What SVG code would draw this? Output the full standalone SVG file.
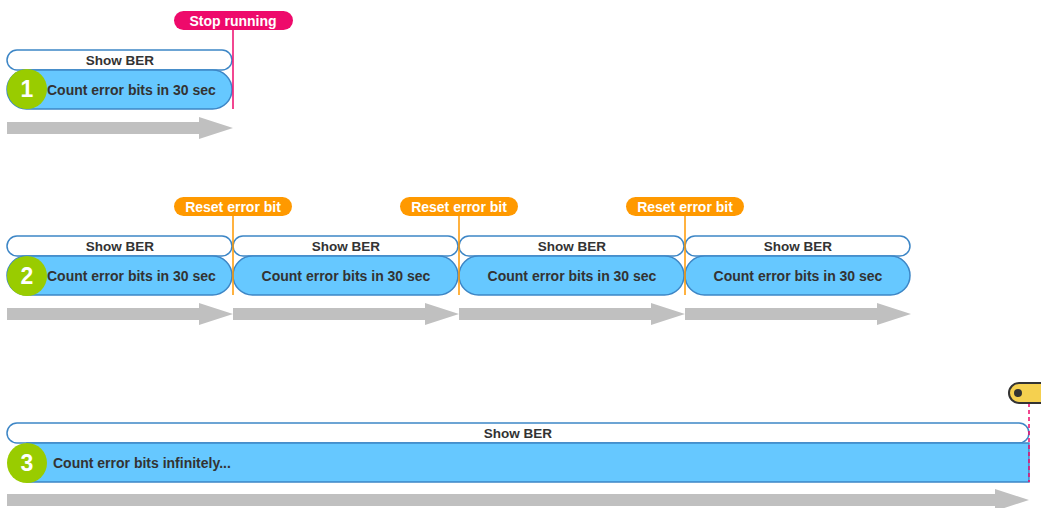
<svg xmlns="http://www.w3.org/2000/svg" width="1041" height="508" viewBox="0 0 1041 508">
  <defs>
    <style>
      .ber { fill: #ffffff; stroke: #3d86c6; stroke-width: 1.5; }
      .cnt { fill: #66c8ff; stroke: #3d86c6; stroke-width: 1.5; }
      .lbl { font-family: "Liberation Sans", Arial, sans-serif; font-weight: bold; fill: #333333; }
      .ber-t { font-size: 13.5px; text-anchor: middle; }
      .cnt-t { font-size: 14px; }
      .num { fill: #99cc00; }
      .num-t { font-family: "Liberation Sans", Arial, sans-serif; font-weight: bold; font-size: 23px; fill: #ffffff; text-anchor: middle; }
      .arrow { fill: #c0c0c0; }
      .tag-t { font-family: "Liberation Sans", Arial, sans-serif; font-weight: bold; font-size: 14px; fill: #ffffff; text-anchor: middle; }
      .reset { fill: #ff9900; }
      .reset-l { stroke: #ff9900; stroke-width: 1.5; }
      .stop { fill: #ee0a6b; }
      .stop-l { stroke: #ee0a6b; stroke-width: 1.5; }
    </style>
  </defs>

  <!-- time arrows -->
  <g id="connectors">
    <polygon class="arrow" points="7,122 199,122 199,117 233,128 199,139 199,134 7,134"/>
    <polygon class="arrow" points="7,308 199,308 199,303 233,314 199,325 199,320 7,320"/>
    <polygon class="arrow" points="233,308 425,308 425,303 459,314 425,325 425,320 233,320"/>
    <polygon class="arrow" points="459,308 651,308 651,303 685,314 651,325 651,320 459,320"/>
    <polygon class="arrow" points="685,308 877,308 877,303 911,314 877,325 877,320 685,320"/>
    <polygon class="arrow" points="7,494 995,494 995,489 1029,500 995,511 995,506 7,506"/>
  </g>

  <!-- scenario 1: single 30 s window, then stop -->
  <g id="row1">
    <rect class="ber" x="7" y="50" width="225" height="20" rx="10"/>
    <text class="lbl ber-t" x="120" y="65">Show BER</text>
    <rect class="cnt" x="7" y="70" width="225" height="39" rx="19.5"/>
    <text class="lbl cnt-t" x="47" y="95">Count error bits in 30 sec</text>
    <circle class="num" cx="27" cy="89" r="20"/>
    <text class="num-t" x="27" y="97">1</text>
  </g>
  <g id="stop">
    <line class="stop-l" x1="233" y1="29" x2="233" y2="109"/>
    <rect class="stop" x="174" y="11" width="119" height="19" rx="9.5"/>
    <text class="tag-t" x="233" y="25.5">Stop running</text>
  </g>

  <!-- scenario 2: repeating 30 s windows with counter reset -->
  <g id="row2">
    <g id="row2-seg1">
      <rect class="ber" x="7" y="236" width="225" height="20" rx="10"/>
      <text class="lbl ber-t" x="120" y="251">Show BER</text>
      <rect class="cnt" x="7" y="256" width="225" height="39" rx="19.5"/>
      <text class="lbl cnt-t" x="47" y="281">Count error bits in 30 sec</text>
      <circle class="num" cx="27" cy="276" r="20"/>
      <text class="num-t" x="27" y="284">2</text>
    </g>
    <g id="row2-seg2">
      <rect class="ber" x="233" y="236" width="225" height="20" rx="10"/>
      <text class="lbl ber-t" x="346" y="251">Show BER</text>
      <rect class="cnt" x="233" y="256" width="225" height="39" rx="19.5"/>
      <text class="lbl cnt-t" x="346" y="281" text-anchor="middle">Count error bits in 30 sec</text>
    </g>
    <g id="row2-seg3">
      <rect class="ber" x="459" y="236" width="225" height="20" rx="10"/>
      <text class="lbl ber-t" x="572" y="251">Show BER</text>
      <rect class="cnt" x="459" y="256" width="225" height="39" rx="19.5"/>
      <text class="lbl cnt-t" x="572" y="281" text-anchor="middle">Count error bits in 30 sec</text>
    </g>
    <g id="row2-seg4">
      <rect class="ber" x="685" y="236" width="225" height="20" rx="10"/>
      <text class="lbl ber-t" x="798" y="251">Show BER</text>
      <rect class="cnt" x="685" y="256" width="225" height="39" rx="19.5"/>
      <text class="lbl cnt-t" x="798" y="281" text-anchor="middle">Count error bits in 30 sec</text>
    </g>
  </g>
  <g id="reset1">
    <line class="reset-l" x1="233" y1="215" x2="233" y2="295"/>
    <rect class="reset" x="174" y="197" width="118" height="19" rx="9.5"/>
    <text class="tag-t" x="233" y="211.5">Reset error bit</text>
  </g>
  <g id="reset2">
    <line class="reset-l" x1="459" y1="215" x2="459" y2="295"/>
    <rect class="reset" x="400" y="197" width="118" height="19" rx="9.5"/>
    <text class="tag-t" x="459" y="211.5">Reset error bit</text>
  </g>
  <g id="reset3">
    <line class="reset-l" x1="685" y1="215" x2="685" y2="295"/>
    <rect class="reset" x="626" y="197" width="118" height="19" rx="9.5"/>
    <text class="tag-t" x="685" y="211.5">Reset error bit</text>
  </g>

  <!-- scenario 3: continuous counting -->
  <g id="row3">
    <rect class="ber" x="7" y="423" width="1022" height="20" rx="10"/>
    <text class="lbl ber-t" x="518" y="438">Show BER</text>
    <rect class="cnt" x="27" y="443" width="1002" height="39"/>
    <text class="lbl cnt-t" x="53" y="468">Count error bits infinitely...</text>
    <circle class="num" cx="27" cy="463" r="20"/>
    <text class="num-t" x="27" y="471">3</text>
  </g>
  <g id="now-marker">
    <line x1="1029" y1="403" x2="1029" y2="482" stroke="#ee0a6b" stroke-width="1.5" stroke-dasharray="4,3"/>
    <rect x="1009" y="383" width="50" height="20" rx="10" fill="#f5d04f" stroke="#333333" stroke-width="2"/>
    <circle cx="1018" cy="393" r="4" fill="#333333"/>
  </g>
</svg>
